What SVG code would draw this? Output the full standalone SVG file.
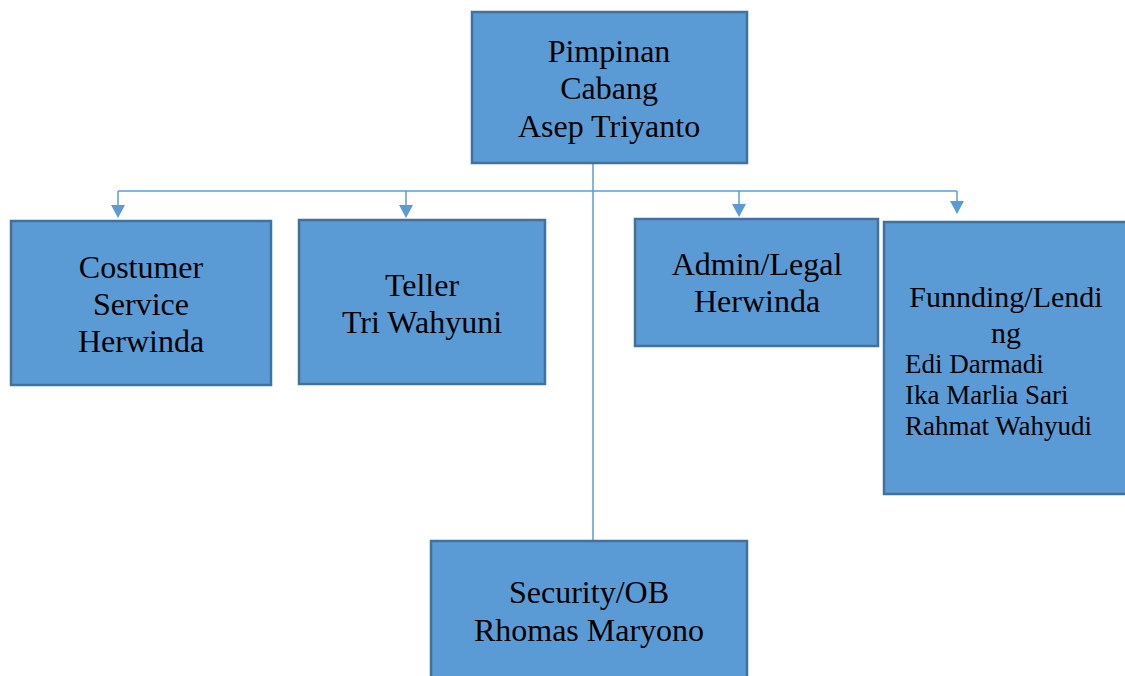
<svg xmlns="http://www.w3.org/2000/svg" width="1125" height="676" viewBox="0 0 1125 676">
<style>
.box{fill:#5B9BD5;stroke:#41719C;stroke-width:2.5}
.t{font-family:"Liberation Serif","Times New Roman",serif;font-size:32px;fill:#000;text-anchor:middle}
.f{font-family:"Liberation Serif","Times New Roman",serif;font-size:30px;fill:#000;text-anchor:middle}
.s{font-family:"Liberation Serif","Times New Roman",serif;font-size:27px;fill:#000}
.c{stroke:#5B9BD5;stroke-width:1.5;fill:none}
.a{fill:#5B9BD5}
</style>
<rect width="1125" height="676" fill="#fff"/>
<g id="connectors">
<line class="c" x1="593" y1="163" x2="593" y2="541"/>
<line class="c" x1="118" y1="191" x2="957" y2="191"/>
<line class="c" x1="118" y1="191" x2="118" y2="206"/>
<line class="c" x1="406" y1="191" x2="406" y2="206"/>
<line class="c" x1="739" y1="191" x2="739" y2="206"/>
<line class="c" x1="957" y1="191" x2="957" y2="202"/>
<path class="a" d="M111,205 L125,205 L118,218 Z"/>
<path class="a" d="M399,205 L413,205 L406,218 Z"/>
<path class="a" d="M732,204 L746,204 L739,217 Z"/>
<path class="a" d="M950,201 L964,201 L957,214 Z"/>
</g>
<g id="pimpinan">
<rect class="box" x="472" y="12" width="275" height="151"/>
<text class="t" x="609" y="62">Pimpinan</text>
<text class="t" x="609" y="99">Cabang</text>
<text class="t" x="609" y="137">Asep Triyanto</text>
</g>
<g id="costumer">
<rect class="box" x="11" y="221" width="260" height="164"/>
<text class="t" x="141" y="278">Costumer</text>
<text class="t" x="141" y="315">Service</text>
<text class="t" x="141" y="352">Herwinda</text>
</g>
<g id="teller">
<rect class="box" x="299" y="220" width="246" height="164"/>
<text class="t" x="422" y="296">Teller</text>
<text class="t" x="422" y="333">Tri Wahyuni</text>
</g>
<g id="admin">
<rect class="box" x="635" y="219" width="243" height="127"/>
<text class="t" x="757" y="275">Admin/Legal</text>
<text class="t" x="757" y="312">Herwinda</text>
</g>
<g id="funding">
<rect class="box" x="884" y="222" width="250" height="272"/>
<text class="f" x="1006" y="307">Funnding/Lendi</text>
<text class="f" x="1006" y="343">ng</text>
<text class="s" x="905" y="373">Edi Darmadi</text>
<text class="s" x="905" y="404">Ika Marlia Sari</text>
<text class="s" x="905" y="435">Rahmat Wahyudi</text>
</g>
<g id="security">
<rect class="box" x="431" y="541" width="316" height="150"/>
<text class="t" x="589" y="603">Security/OB</text>
<text class="t" x="589" y="641">Rhomas Maryono</text>
</g>
</svg>
